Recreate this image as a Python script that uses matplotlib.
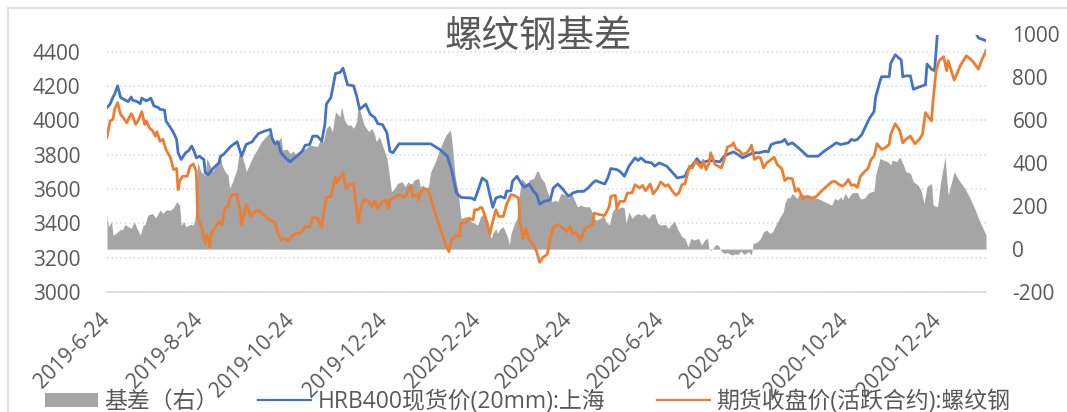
import matplotlib
matplotlib.use("Agg")
import matplotlib.pyplot as plt
from matplotlib.patches import Patch, Rectangle
from matplotlib.lines import Line2D
import pandas as pd

plt.rcParams['font.family'] = ['Open Sans', 'Noto Sans CJK SC', 'DejaVu Sans']
plt.rcParams['axes.unicode_minus'] = False

# HRB400 spot price, Shanghai (left axis)
spot_dates = [
    '2019-06-24', '2019-06-26', '2019-06-28', '2019-06-29', '2019-07-01', '2019-07-03', '2019-07-05',
    '2019-07-08', '2019-07-10', '2019-07-11', '2019-07-14', '2019-07-16', '2019-07-17', '2019-07-20',
    '2019-07-23', '2019-07-25', '2019-07-28', '2019-07-29', '2019-08-01', '2019-08-02', '2019-08-05',
    '2019-08-07', '2019-08-09', '2019-08-10', '2019-08-12', '2019-08-15', '2019-08-17', '2019-08-19',
    '2019-08-21', '2019-08-22', '2019-08-24', '2019-08-27', '2019-08-28', '2019-08-30', '2019-09-02',
    '2019-09-06', '2019-09-07', '2019-09-09', '2019-09-12', '2019-09-14', '2019-09-18', '2019-09-21',
    '2019-09-24', '2019-09-28', '2019-09-29', '2019-10-02', '2019-10-06', '2019-10-10', '2019-10-11',
    '2019-10-13', '2019-10-15', '2019-10-17', '2019-10-20', '2019-10-23', '2019-10-26', '2019-10-31',
    '2019-11-02', '2019-11-05', '2019-11-07', '2019-11-10', '2019-11-13', '2019-11-15', '2019-11-16',
    '2019-11-19', '2019-11-22', '2019-11-25', '2019-11-27', '2019-11-30', '2019-12-04', '2019-12-06',
    '2019-12-08', '2019-12-12', '2019-12-15', '2019-12-18', '2019-12-20', '2019-12-23', '2019-12-26',
    '2019-12-28', '2019-12-30', '2020-01-03', '2020-01-24', '2020-01-30', '2020-02-04', '2020-02-07',
    '2020-02-10', '2020-02-13', '2020-02-20', '2020-02-22', '2020-02-24', '2020-02-27', '2020-03-01',
    '2020-03-03', '2020-03-05', '2020-03-07', '2020-03-10', '2020-03-13', '2020-03-14', '2020-03-17',
    '2020-03-18', '2020-03-21', '2020-03-24', '2020-03-26', '2020-03-29', '2020-04-01', '2020-04-03',
    '2020-04-05', '2020-04-08', '2020-04-12', '2020-04-14', '2020-04-17', '2020-04-20', '2020-04-24',
    '2020-04-27', '2020-04-30', '2020-05-04', '2020-05-07', '2020-05-10', '2020-05-12', '2020-05-16',
    '2020-05-18', '2020-05-20', '2020-05-22', '2020-05-26', '2020-05-28', '2020-05-31', '2020-06-03',
    '2020-06-07', '2020-06-09', '2020-06-11', '2020-06-14', '2020-06-18', '2020-06-20', '2020-06-23',
    '2020-06-28', '2020-07-02', '2020-07-05', '2020-07-10', '2020-07-12', '2020-07-14', '2020-07-18',
    '2020-07-20', '2020-07-23', '2020-07-26', '2020-07-30', '2020-08-02', '2020-08-05', '2020-08-07',
    '2020-08-11', '2020-08-14', '2020-08-17', '2020-08-21', '2020-08-24', '2020-08-28', '2020-09-01',
    '2020-09-03', '2020-09-05', '2020-09-08', '2020-09-12', '2020-09-14', '2020-09-16', '2020-09-19',
    '2020-09-23', '2020-09-26', '2020-09-29', '2020-10-06', '2020-10-10', '2020-10-15', '2020-10-18',
    '2020-10-21', '2020-10-26', '2020-10-28', '2020-10-30', '2020-11-01', '2020-11-04', '2020-11-06',
    '2020-11-09', '2020-11-12', '2020-11-13', '2020-11-16', '2020-11-17', '2020-11-22', '2020-11-23',
    '2020-11-26', '2020-11-30', '2020-12-01', '2020-12-03', '2020-12-06', '2020-12-08', '2020-12-12',
    '2020-12-16', '2020-12-17', '2020-12-20', '2020-12-22', '2020-12-24', '2020-12-26', '2020-12-29',
    '2020-12-31', '2021-01-04', '2021-01-07', '2021-01-11', '2021-01-14', '2021-01-17', '2021-01-20',
    '2021-01-25',
]
spot_vals = [
    4074, 4094, 4136, 4152, 4201, 4133, 4123, 4109, 4136, 4117, 4109, 4097, 4129, 4113,
    4129, 4084, 4074, 4064, 4060, 3996, 3957, 3928, 3889, 3811, 3772, 3811, 3824, 3850,
    3811, 3781, 3791, 3772, 3694, 3684, 3719, 3752, 3791, 3801, 3830, 3850, 3875, 3791,
    3860, 3875, 3889, 3922, 3937, 3947, 3898, 3863, 3875, 3811, 3781, 3758, 3781, 3820,
    3855, 3859, 3908, 3908, 3879, 3976, 4094, 4133, 4273, 4279, 4304, 4207, 4201, 4142,
    4064, 4094, 4035, 4016, 3980, 3976, 3928, 3820, 3811, 3863, 3863, 3830, 3791, 3703,
    3577, 3551, 3547, 3537, 3586, 3664, 3645, 3567, 3493, 3547, 3557, 3547, 3586, 3590,
    3645, 3674, 3629, 3610, 3629, 3586, 3567, 3512, 3528, 3537, 3606, 3629, 3602, 3557,
    3577, 3586, 3586, 3606, 3635, 3649, 3635, 3629, 3664, 3719, 3713, 3703, 3674, 3733,
    3781, 3766, 3781, 3758, 3752, 3733, 3752, 3733, 3694, 3664, 3674, 3713, 3727, 3777,
    3752, 3758, 3766, 3762, 3758, 3791, 3801, 3816, 3801, 3781, 3797, 3811, 3811, 3820,
    3816, 3859, 3869, 3875, 3889, 3859, 3869, 3840, 3816, 3791, 3791, 3820, 3850, 3869,
    3859, 3869, 3889, 3883, 3889, 3918, 3957, 4012, 4051, 4133, 4230, 4254, 4254, 4332,
    4382, 4351, 4254, 4259, 4259, 4181, 4195, 4207, 4328, 4298, 4289, 4520, 4674, 4800,
    4600, 4595, 4632, 4653, 4604, 4530, 4480, 4464,
]

# rebar futures close, active contract (left axis)
fut_dates = [
    '2019-06-24', '2019-06-26', '2019-06-28', '2019-06-29', '2019-07-01', '2019-07-03', '2019-07-05',
    '2019-07-07', '2019-07-10', '2019-07-11', '2019-07-13', '2019-07-15', '2019-07-17', '2019-07-19',
    '2019-07-20', '2019-07-22', '2019-07-24', '2019-07-26', '2019-07-27', '2019-07-29', '2019-07-31',
    '2019-08-02', '2019-08-05', '2019-08-07', '2019-08-09', '2019-08-10', '2019-08-11', '2019-08-13',
    '2019-08-16', '2019-08-18', '2019-08-20', '2019-08-22', '2019-08-23', '2019-08-25', '2019-08-28',
    '2019-08-29', '2019-08-31', '2019-09-01', '2019-09-04', '2019-09-06', '2019-09-08', '2019-09-10',
    '2019-09-12', '2019-09-14', '2019-09-18', '2019-09-20', '2019-09-21', '2019-09-24', '2019-09-25',
    '2019-09-27', '2019-09-30', '2019-10-02', '2019-10-04', '2019-10-08', '2019-10-11', '2019-10-13',
    '2019-10-15', '2019-10-17', '2019-10-19', '2019-10-22', '2019-10-24', '2019-10-27', '2019-10-30',
    '2019-11-02', '2019-11-05', '2019-11-07', '2019-11-10', '2019-11-13', '2019-11-14', '2019-11-16',
    '2019-11-19', '2019-11-22', '2019-11-23', '2019-11-25', '2019-11-27', '2019-11-29', '2019-12-01',
    '2019-12-04', '2019-12-07', '2019-12-09', '2019-12-11', '2019-12-14', '2019-12-16', '2019-12-18',
    '2019-12-20', '2019-12-22', '2019-12-25', '2019-12-27', '2019-12-28', '2019-12-31', '2020-01-03',
    '2020-01-06', '2020-01-08', '2020-01-11', '2020-01-12', '2020-01-15', '2020-01-16', '2020-01-17',
    '2020-01-19', '2020-01-22', '2020-01-23', '2020-01-24', '2020-01-28', '2020-01-31', '2020-02-03',
    '2020-02-05', '2020-02-07', '2020-02-08', '2020-02-10', '2020-02-12', '2020-02-13', '2020-02-16',
    '2020-02-18', '2020-02-21', '2020-02-22', '2020-02-24', '2020-02-26', '2020-02-27', '2020-03-01',
    '2020-03-03', '2020-03-05', '2020-03-07', '2020-03-09', '2020-03-12', '2020-03-14', '2020-03-17',
    '2020-03-19', '2020-03-22', '2020-03-23', '2020-03-25', '2020-03-27', '2020-03-29', '2020-04-01',
    '2020-04-03', '2020-04-05', '2020-04-07', '2020-04-10', '2020-04-12', '2020-04-14', '2020-04-17',
    '2020-04-20', '2020-04-23', '2020-04-25', '2020-04-27', '2020-04-29', '2020-05-02', '2020-05-05',
    '2020-05-08', '2020-05-10', '2020-05-11', '2020-05-15', '2020-05-18', '2020-05-21', '2020-05-22',
    '2020-05-25', '2020-05-26', '2020-05-28', '2020-05-31', '2020-06-02', '2020-06-05', '2020-06-07',
    '2020-06-10', '2020-06-12', '2020-06-14', '2020-06-17', '2020-06-19', '2020-06-22', '2020-06-24',
    '2020-06-27', '2020-06-29', '2020-07-01', '2020-07-04', '2020-07-06', '2020-07-08', '2020-07-10',
    '2020-07-13', '2020-07-15', '2020-07-17', '2020-07-19', '2020-07-21', '2020-07-22', '2020-07-24',
    '2020-07-26', '2020-07-27', '2020-07-30', '2020-08-01', '2020-08-03', '2020-08-05', '2020-08-07',
    '2020-08-10', '2020-08-11', '2020-08-13', '2020-08-15', '2020-08-17', '2020-08-20', '2020-08-22',
    '2020-08-23', '2020-08-25', '2020-08-27', '2020-08-29', '2020-08-31', '2020-09-02', '2020-09-05',
    '2020-09-07', '2020-09-09', '2020-09-12', '2020-09-14', '2020-09-16', '2020-09-19', '2020-09-21',
    '2020-09-23', '2020-09-26', '2020-09-29', '2020-10-02', '2020-10-05', '2020-10-08', '2020-10-11',
    '2020-10-15', '2020-10-17', '2020-10-20', '2020-10-22', '2020-10-24', '2020-10-26', '2020-10-28',
    '2020-10-30', '2020-11-01', '2020-11-03', '2020-11-06', '2020-11-08', '2020-11-10', '2020-11-12',
    '2020-11-14', '2020-11-17', '2020-11-20', '2020-11-22', '2020-11-23', '2020-11-26', '2020-11-29',
    '2020-12-01', '2020-12-03', '2020-12-06', '2020-12-09', '2020-12-12', '2020-12-14', '2020-12-16',
    '2020-12-18', '2020-12-20', '2020-12-21', '2020-12-23', '2020-12-25', '2020-12-28', '2020-12-30',
    '2020-12-31', '2021-01-04', '2021-01-08', '2021-01-12', '2021-01-16', '2021-01-20', '2021-01-22',
    '2021-01-25',
]
fut_vals = [
    3902, 3996, 4006, 4064, 4103, 4035, 4012, 3986, 4039, 4025, 3976, 4006, 4051, 3976,
    3996, 3957, 3941, 3908, 3934, 3879, 3889, 3830, 3781, 3713, 3719, 3596, 3645, 3674,
    3674, 3733, 3746, 3703, 3430, 3391, 3284, 3333, 3264, 3342, 3381, 3411, 3391, 3489,
    3498, 3567, 3567, 3469, 3391, 3508, 3493, 3440, 3469, 3479, 3459, 3430, 3411, 3407,
    3342, 3303, 3313, 3298, 3323, 3342, 3342, 3381, 3381, 3434, 3430, 3376, 3450, 3551,
    3557, 3668, 3635, 3664, 3694, 3602, 3625, 3629, 3401, 3498, 3537, 3528, 3498, 3528,
    3485, 3518, 3537, 3489, 3537, 3551, 3567, 3551, 3567, 3621, 3557, 3567, 3537, 3581,
    3596, 3600, 3577, 3547, 3430, 3352, 3274, 3235, 3313, 3309, 3333, 3323, 3401, 3401,
    3430, 3420, 3479, 3479, 3493, 3489, 3411, 3337, 3411, 3479, 3440, 3440, 3508, 3567,
    3563, 3547, 3411, 3313, 3368, 3303, 3274, 3235, 3173, 3200, 3220, 3313, 3376, 3391,
    3376, 3352, 3381, 3337, 3348, 3303, 3372, 3381, 3395, 3459, 3450, 3446, 3498, 3557,
    3563, 3489, 3528, 3528, 3577, 3577, 3625, 3606, 3621, 3590, 3629, 3571, 3606, 3641,
    3616, 3625, 3596, 3563, 3577, 3625, 3629, 3733, 3723, 3762, 3742, 3723, 3766, 3713,
    3752, 3811, 3742, 3733, 3723, 3772, 3844, 3855, 3869, 3830, 3824, 3801, 3811, 3836,
    3855, 3772, 3785, 3781, 3723, 3752, 3772, 3785, 3742, 3719, 3649, 3664, 3660, 3586,
    3602, 3543, 3557, 3547, 3557, 3586, 3610, 3641, 3645, 3625, 3616, 3629, 3655, 3621,
    3625, 3610, 3674, 3703, 3719, 3772, 3791, 3864, 3830, 3844, 3859, 3918, 3980, 3941,
    3869, 3889, 3908, 3864, 3889, 3918, 4045, 4019, 3996, 4113, 4289, 4347, 4371, 4289,
    4347, 4234, 4318, 4376, 4347, 4298, 4347, 4406,
]

# basis (right axis)
basis_dates = [
    '2019-06-24', '2019-06-25', '2019-06-27', '2019-06-28', '2019-06-30', '2019-07-03', '2019-07-04',
    '2019-07-06', '2019-07-08', '2019-07-10', '2019-07-12', '2019-07-14', '2019-07-16', '2019-07-18',
    '2019-07-19', '2019-07-21', '2019-07-24', '2019-07-26', '2019-07-27', '2019-07-29', '2019-07-31',
    '2019-08-02', '2019-08-05', '2019-08-07', '2019-08-09', '2019-08-11', '2019-08-12', '2019-08-14',
    '2019-08-15', '2019-08-18', '2019-08-20', '2019-08-21', '2019-08-22', '2019-08-23', '2019-08-25',
    '2019-08-28', '2019-08-29', '2019-08-31', '2019-09-02', '2019-09-05', '2019-09-07', '2019-09-08',
    '2019-09-10', '2019-09-12', '2019-09-13', '2019-09-15', '2019-09-18', '2019-09-19', '2019-09-21',
    '2019-09-23', '2019-09-24', '2019-09-26', '2019-09-28', '2019-10-01', '2019-10-04', '2019-10-08',
    '2019-10-10', '2019-10-12', '2019-10-14', '2019-10-15', '2019-10-17', '2019-10-18', '2019-10-21',
    '2019-10-23', '2019-10-25', '2019-10-27', '2019-10-30', '2019-11-03', '2019-11-05', '2019-11-10',
    '2019-11-12', '2019-11-14', '2019-11-16', '2019-11-18', '2019-11-20', '2019-11-22', '2019-11-23',
    '2019-11-25', '2019-11-26', '2019-11-28', '2019-11-30', '2019-12-02', '2019-12-04', '2019-12-06',
    '2019-12-07', '2019-12-09', '2019-12-11', '2019-12-14', '2019-12-16', '2019-12-18', '2019-12-19',
    '2019-12-21', '2019-12-23', '2019-12-26', '2019-12-27', '2019-12-29', '2019-12-31', '2020-01-02',
    '2020-01-05', '2020-01-07', '2020-01-09', '2020-01-11', '2020-01-13', '2020-01-16', '2020-01-17',
    '2020-01-19', '2020-01-22', '2020-01-24', '2020-01-27', '2020-01-29', '2020-02-01', '2020-02-03',
    '2020-02-06', '2020-02-07', '2020-02-09', '2020-02-11', '2020-02-13', '2020-02-16', '2020-02-18',
    '2020-02-20', '2020-02-22', '2020-02-24', '2020-02-26', '2020-02-29', '2020-03-01', '2020-03-04',
    '2020-03-05', '2020-03-07', '2020-03-08', '2020-03-10', '2020-03-12', '2020-03-15', '2020-03-16',
    '2020-03-17', '2020-03-19', '2020-03-21', '2020-03-22', '2020-03-24', '2020-03-26', '2020-03-28',
    '2020-03-29', '2020-04-01', '2020-04-03', '2020-04-04', '2020-04-06', '2020-04-08', '2020-04-10',
    '2020-04-13', '2020-04-15', '2020-04-17', '2020-04-19', '2020-04-22', '2020-04-24', '2020-04-26',
    '2020-04-28', '2020-04-30', '2020-05-02', '2020-05-05', '2020-05-08', '2020-05-10', '2020-05-12',
    '2020-05-15', '2020-05-17', '2020-05-19', '2020-05-21', '2020-05-23', '2020-05-25', '2020-05-27',
    '2020-05-29', '2020-05-31', '2020-06-01', '2020-06-03', '2020-06-05', '2020-06-07', '2020-06-09',
    '2020-06-11', '2020-06-13', '2020-06-16', '2020-06-18', '2020-06-20', '2020-06-22', '2020-06-24',
    '2020-06-27', '2020-06-29', '2020-07-01', '2020-07-03', '2020-07-05', '2020-07-08', '2020-07-10',
    '2020-07-12', '2020-07-14', '2020-07-16', '2020-07-19', '2020-07-21', '2020-07-23', '2020-07-25',
    '2020-07-26', '2020-07-28', '2020-07-30', '2020-08-01', '2020-08-03', '2020-08-05', '2020-08-07',
    '2020-08-10', '2020-08-12', '2020-08-14', '2020-08-16', '2020-08-18', '2020-08-21', '2020-08-23',
    '2020-08-24', '2020-08-27', '2020-08-29', '2020-08-31', '2020-09-02', '2020-09-04', '2020-09-06',
    '2020-09-08', '2020-09-11', '2020-09-13', '2020-09-14', '2020-09-16', '2020-09-17', '2020-09-19',
    '2020-09-22', '2020-09-24', '2020-09-27', '2020-10-01', '2020-10-06', '2020-10-10', '2020-10-15',
    '2020-10-17', '2020-10-19', '2020-10-21', '2020-10-22', '2020-10-24', '2020-10-26', '2020-10-28',
    '2020-10-30', '2020-11-01', '2020-11-03', '2020-11-06', '2020-11-08', '2020-11-10', '2020-11-12',
    '2020-11-13', '2020-11-16', '2020-11-18', '2020-11-21', '2020-11-23', '2020-11-24', '2020-11-27',
    '2020-11-29', '2020-12-01', '2020-12-03', '2020-12-06', '2020-12-08', '2020-12-11', '2020-12-13',
    '2020-12-15', '2020-12-17', '2020-12-20', '2020-12-21', '2020-12-24', '2020-12-26', '2020-12-29',
    '2020-12-30', '2020-12-31', '2021-01-04', '2021-01-07', '2021-01-11', '2021-01-14', '2021-01-17',
    '2021-01-21', '2021-01-25',
]
basis_vals = [
    158, 104, 127, 65, 73, 93, 88, 115, 104, 96, 127, 93, 65, 112,
    112, 158, 166, 146, 155, 182, 166, 182, 182, 193, 221, 205, 112, 127,
    104, 115, 112, 135, 221, 407, 361, 345, 423, 392, 361, 407, 430, 392,
    361, 345, 283, 314, 376, 438, 446, 392, 361, 392, 423, 462, 500, 531,
    547, 485, 516, 500, 524, 462, 465, 446, 457, 438, 454, 472, 485, 478,
    508, 500, 563, 578, 547, 640, 632, 617, 664, 601, 578, 578, 563, 594,
    671, 625, 578, 547, 563, 531, 500, 524, 485, 423, 376, 267, 283, 306,
    314, 291, 314, 298, 322, 329, 291, 298, 275, 361, 407, 446, 500, 531,
    555, 500, 345, 267, 143, 151, 143, 127, 120, 112, 151, 174, 112, 50,
    73, 96, 73, 96, 104, 50, 19, 73, 112, 143, 221, 329, 314, 298,
    322, 329, 361, 364, 329, 314, 267, 221, 228, 221, 260, 252, 236, 260,
    228, 197, 205, 197, 197, 166, 135, 143, 158, 127, 112, 174, 193, 190,
    197, 190, 120, 174, 143, 158, 166, 158, 166, 143, 162, 166, 120, 112,
    115, 96, 115, 131, 96, 57, 50, 11, 50, 42, 50, 19, 42, 50,
    -5, -2, 19, 19, -9, -20, -16, -28, -22, -25, -9, -25, -12, -28,
    26, 34, 50, 81, 89, 73, 81, 112, 151, 174, 213, 244, 236, 260,
    236, 260, 252, 244, 236, 221, 205, 236, 228, 244, 228, 260, 236, 260,
    264, 264, 233, 239, 260, 267, 270, 345, 423, 415, 407, 392, 415, 407,
    430, 399, 361, 353, 314, 298, 275, 213, 291, 306, 205, 197, 314, 430,
    329, 252, 361, 322, 283, 244, 197, 127, 65,
]

tick_labels = ['2019-6-24', '2019-8-24', '2019-10-24', '2019-12-24', '2020-2-24',
               '2020-4-24', '2020-6-24', '2020-8-24', '2020-10-24', '2020-12-24']
left_ticks = [3000, 3200, 3400, 3600, 3800, 4000, 4200, 4400]
right_ticks = [-200, 0, 200, 400, 600, 800, 1000]

title = '螺纹钢基差'
labels = ['基差（右）', 'HRB400现货价(20mm):上海', '期货收盘价(活跃合约):螺纹钢']
colors = ['#A5A5A5', '#4472C4', '#ED7D31']
text_color = '#595959'
grid_color = '#D9D9D9'

W, H = 1067, 412
fig = plt.figure(figsize=(W / 100, H / 100), dpi=100)
ax = fig.add_axes([107 / W, 1 - 292 / H, (986 - 107) / W, (292 - 34.5) / H])
ax2 = ax.twinx()
ax2.set_ylim(-200, 1000)

# basis area lives in ax (so it sits under the lines) but uses the right-hand scale
ax.fill_between(pd.to_datetime(basis_dates), basis_vals, 0, transform=ax2.transData,
                color=colors[0], lw=0, zorder=1)
ax.plot(pd.to_datetime(spot_dates), spot_vals, color=colors[1], lw=2.0, zorder=3)
ax.plot(pd.to_datetime(fut_dates), fut_vals, color=colors[2], lw=2.0, zorder=4)
ax.set_ylim(3000, 4500)
ax.set_xlim(pd.Timestamp('2019-06-24'), pd.Timestamp('2021-01-25'))

ax.set_axisbelow(True)
ax.set_yticks(left_ticks)
ax.yaxis.grid(True, linestyle=(0, (1, 1.9)), color=grid_color, lw=1.1)
ax2.set_yticks(right_ticks)

for a in (ax, ax2):
    for s in a.spines.values():
        s.set_visible(False)
ax.spines['bottom'].set_visible(True)
ax.spines['bottom'].set_color(grid_color)
ax.spines['bottom'].set_linewidth(1.2)

ax.tick_params(axis='y', length=0, labelsize=15, labelcolor=text_color, pad=19)
ax2.tick_params(axis='y', length=0, labelsize=15, labelcolor=text_color, pad=19)

ax.set_xticks(pd.to_datetime(tick_labels))
ax.set_xticklabels(tick_labels, rotation=45, ha='right', va='center', rotation_mode='anchor')
ax.tick_params(axis='x', length=0, labelsize=15, labelcolor=text_color, pad=18)

fig.text(538 / W, 1 - 37 / H, title, ha='center', va='center', fontsize=27, color=text_color)

# legend entries along the bottom
handles = [Patch(facecolor=colors[0], edgecolor='none'),
           Line2D([], [], color=colors[1], lw=1.6),
           Line2D([], [], color=colors[2], lw=1.6)]
legend_x = [45, 258, 657]
for h, lab, x0 in zip(handles, labels, legend_x):
    fig.legend(handles=[h], labels=[lab], loc='center left',
               bbox_to_anchor=(x0 / W, 1 - 402 / H), frameon=False, fontsize=16.5,
               labelcolor=text_color, handlelength=2.3, handleheight=0.55,
               handletextpad=0.3, borderpad=0, borderaxespad=0)

# outer chart border
fig.patches.append(Rectangle((8 / W, -0.05), 1.2, 1 - 8 / H + 0.05, transform=fig.transFigure,
                             fill=False, ec=grid_color, lw=1.2))

fig.savefig('out.png', dpi=100)
